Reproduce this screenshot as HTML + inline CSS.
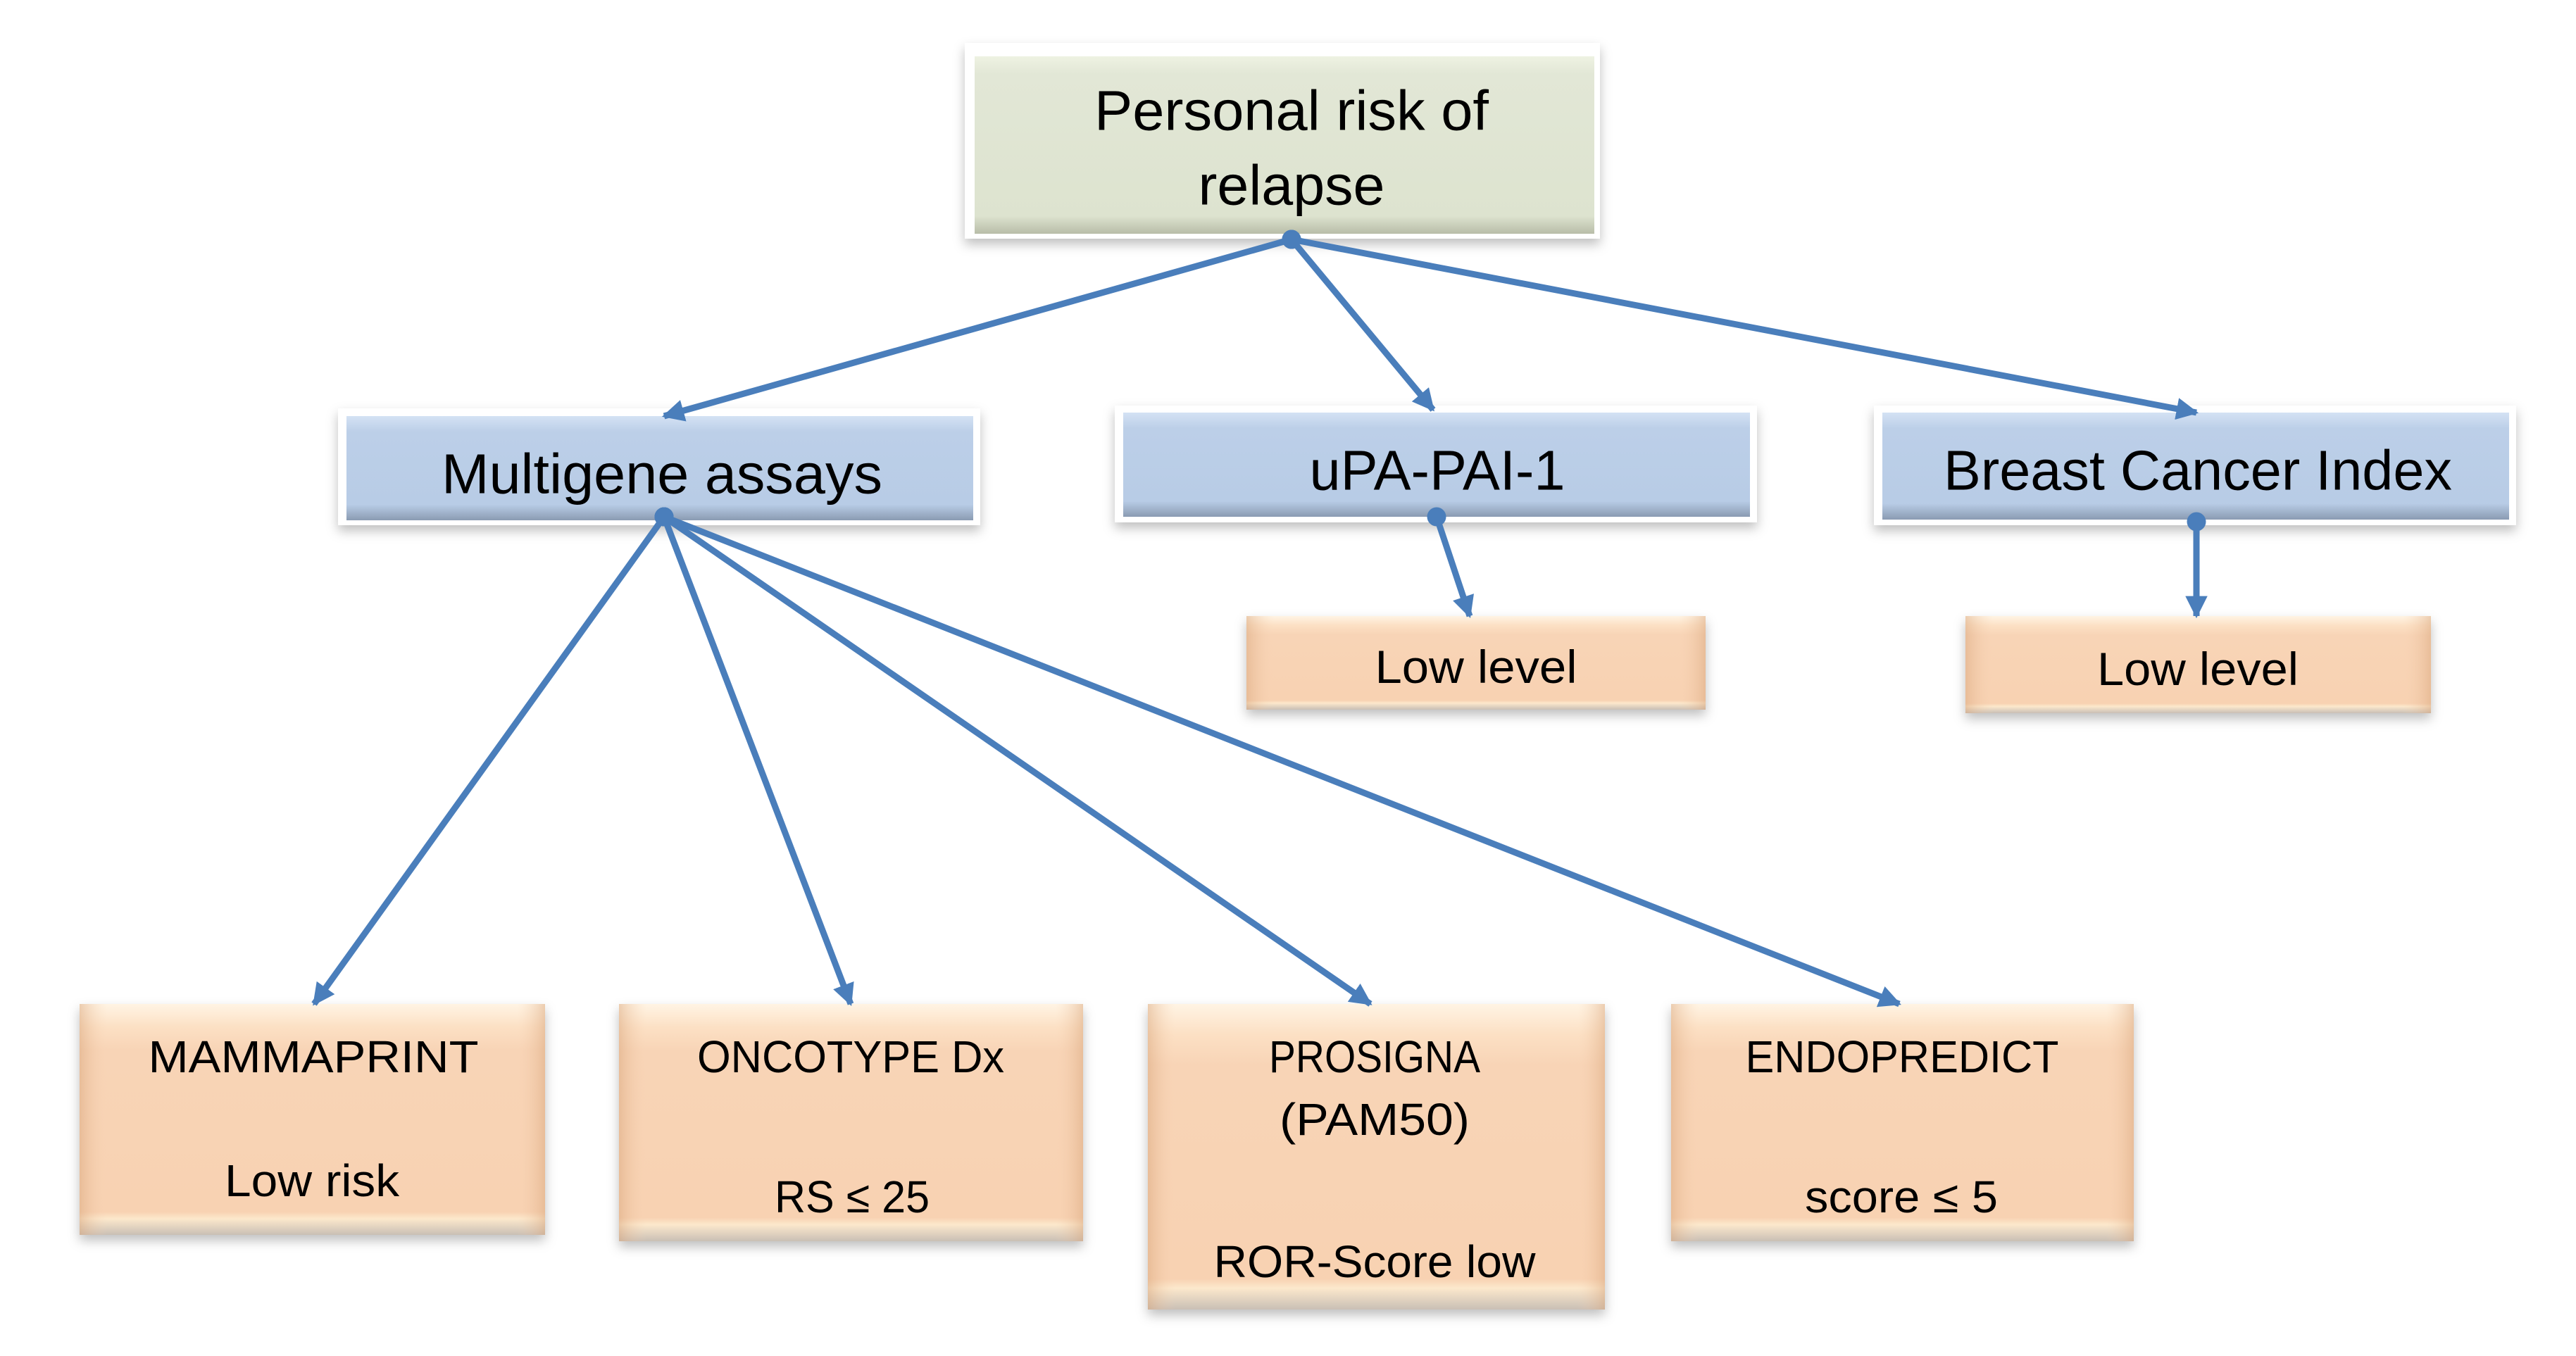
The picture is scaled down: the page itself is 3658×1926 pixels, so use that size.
<!DOCTYPE html>
<html><head><meta charset="utf-8"><style>
html,body{margin:0;padding:0;background:#fff;}
svg{display:block;}
text{font-family:"Liberation Sans",sans-serif;fill:#000;}
</style></head><body>
<svg width="3658" height="1926" viewBox="0 0 3658 1926" xmlns="http://www.w3.org/2000/svg">
<defs>
<linearGradient id="g" x1="0" y1="0" x2="0" y2="1"><stop offset="0" stop-color="#eef2e2"/><stop offset="0.1" stop-color="#e2e7d6"/><stop offset="0.9" stop-color="#dde3cf"/><stop offset="1" stop-color="#b8bda8"/></linearGradient>
<linearGradient id="b" x1="0" y1="0" x2="0" y2="1"><stop offset="0" stop-color="#d4e2f4"/><stop offset="0.15" stop-color="#bccfe8"/><stop offset="0.85" stop-color="#b8cce6"/><stop offset="1" stop-color="#8a9bb2"/></linearGradient>
<linearGradient id="p" x1="0" y1="0" x2="0" y2="1"><stop offset="0" stop-color="#fff4e4"/><stop offset="0.1" stop-color="#fce0c4"/><stop offset="0.2" stop-color="#f8d4b6"/><stop offset="0.9" stop-color="#f8d2b2"/><stop offset="0.93" stop-color="#fce8cc"/><stop offset="1" stop-color="#c9bfb5"/></linearGradient>
<linearGradient id="ps" x1="0" y1="0" x2="1" y2="0"><stop offset="0" stop-color="#d9a67c" stop-opacity="0.5"/><stop offset="0.06" stop-color="#f8d4b6" stop-opacity="0"/><stop offset="0.94" stop-color="#f8d4b6" stop-opacity="0"/><stop offset="1" stop-color="#d9a67c" stop-opacity="0.5"/></linearGradient>
<filter id="sh" x="-5%" y="-10%" width="110%" height="130%"><feDropShadow dx="0" dy="8" stdDeviation="8" flood-color="#000" flood-opacity="0.25"/></filter>
<marker id="ar" viewBox="0 0 10 10" refX="9" refY="5" markerWidth="3.5" markerHeight="3.5" orient="auto"><path d="M0,0 L10,5 L0,10 z" fill="#4a7ebb"/></marker>
<marker id="dt" viewBox="0 0 10 10" refX="5" refY="5" markerWidth="3" markerHeight="3"><circle cx="5" cy="5" r="5" fill="#4a7ebb"/></marker>
</defs>
<g filter="url(#sh)">
<rect x="1370" y="61" width="902" height="278" fill="#fff"/>
<rect x="1384" y="80" width="880" height="252" fill="url(#g)"/>
<rect x="480" y="580" width="912" height="166" fill="#fff"/>
<rect x="492" y="591" width="890" height="148" fill="url(#b)"/>
<rect x="1583" y="576" width="912" height="166" fill="#fff"/>
<rect x="1595" y="586" width="890" height="148" fill="url(#b)"/>
<rect x="2661" y="576" width="912" height="170" fill="#fff"/>
<rect x="2673" y="586" width="890" height="152" fill="url(#b)"/>
<rect x="1770" y="875" width="652" height="133" fill="url(#p)"/>
<rect x="2791" y="875" width="661" height="138" fill="url(#p)"/>
<rect x="113" y="1426" width="661" height="328" fill="url(#p)"/>
<rect x="879" y="1426" width="659" height="337" fill="url(#p)"/>
<rect x="1630" y="1426" width="649" height="434" fill="url(#p)"/>
<rect x="2373" y="1426" width="657" height="337" fill="url(#p)"/>
</g>
<g fill="url(#ps)">
<rect x="1770" y="875" width="652" height="133"/>
<rect x="2791" y="875" width="661" height="138"/>
<rect x="113" y="1426" width="661" height="328"/>
<rect x="879" y="1426" width="659" height="337"/>
<rect x="1630" y="1426" width="649" height="434"/>
<rect x="2373" y="1426" width="657" height="337"/>
</g>
<g stroke="#4a7ebb" stroke-width="9" fill="none" marker-start="url(#dt)" marker-end="url(#ar)">
<line x1="1834" y1="340" x2="943" y2="591"/>
<line x1="1834" y1="340" x2="2035" y2="582"/>
<line x1="1834" y1="340" x2="3119" y2="586"/>
<line x1="943" y1="734" x2="446" y2="1426"/>
<line x1="943" y1="734" x2="1208" y2="1426"/>
<line x1="943" y1="734" x2="1946" y2="1426"/>
<line x1="943" y1="734" x2="2697" y2="1426"/>
<line x1="2040" y1="734" x2="2087" y2="875"/>
<line x1="3119" y1="741" x2="3119" y2="875"/>
</g>
<g dominant-baseline="central" text-anchor="middle">
<text x="1834" y="157" font-size="80" textLength="560" lengthAdjust="spacingAndGlyphs">Personal risk of</text>
<text x="1834" y="263" font-size="80" textLength="265" lengthAdjust="spacingAndGlyphs">relapse</text>
<text x="940" y="673" font-size="80" textLength="626" lengthAdjust="spacingAndGlyphs">Multigene assays</text>
<text x="2041" y="668" font-size="80" textLength="363" lengthAdjust="spacingAndGlyphs">uPA-PAI-1</text>
<text x="3121" y="668" font-size="80" textLength="722" lengthAdjust="spacingAndGlyphs">Breast Cancer Index</text>
<text x="2096" y="947" font-size="66" textLength="287" lengthAdjust="spacingAndGlyphs">Low level</text>
<text x="3121" y="950" font-size="66" textLength="286" lengthAdjust="spacingAndGlyphs">Low level</text>
<text x="445" y="1501" font-size="64" textLength="469" lengthAdjust="spacingAndGlyphs">MAMMAPRINT</text>
<text x="443" y="1677" font-size="64" textLength="248" lengthAdjust="spacingAndGlyphs">Low risk</text>
<text x="1208" y="1501" font-size="64" textLength="436" lengthAdjust="spacingAndGlyphs">ONCOTYPE Dx</text>
<text x="1210" y="1700" font-size="64" textLength="220" lengthAdjust="spacingAndGlyphs">RS ≤ 25</text>
<text x="1952" y="1501" font-size="64" textLength="300" lengthAdjust="spacingAndGlyphs">PROSIGNA</text>
<text x="1952" y="1590" font-size="64" textLength="270" lengthAdjust="spacingAndGlyphs">(PAM50)</text>
<text x="1952" y="1792" font-size="64" textLength="457" lengthAdjust="spacingAndGlyphs">ROR-Score low</text>
<text x="2701" y="1501" font-size="64" textLength="445" lengthAdjust="spacingAndGlyphs">ENDOPREDICT</text>
<text x="2700" y="1700" font-size="64" textLength="274" lengthAdjust="spacingAndGlyphs">score ≤ 5</text>
</g>
</svg>
</body></html>
